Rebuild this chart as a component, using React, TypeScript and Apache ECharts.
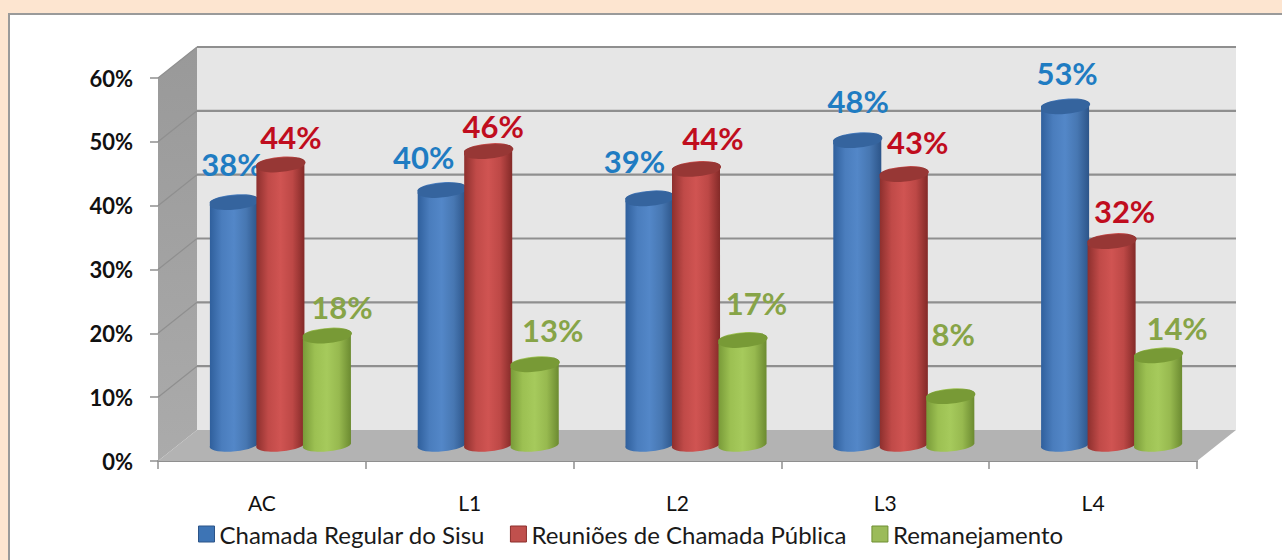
import React, { useEffect, useRef } from "react";
import * as echarts from "echarts";

const categories = ["AC", "L1", "L2", "L3", "L4"];
const seriesNames = ["Chamada Regular do Sisu", "Reuniões de Chamada Pública", "Remanejamento"];
const regularValues = [38.1, 40, 38.7, 47.8, 53.1];
const reunioesValues = [44, 46.1, 43.3, 42.5, 32];
const remanejamentoValues = [17.2, 12.7, 16.5, 7.7, 14.1];
const regularLabels = ["38%", "40%", "39%", "48%", "53%"];
const reunioesLabels = ["44%", "46%", "44%", "43%", "32%"];
const remanejamentoLabels = ["18%", "13%", "17%", "8%", "14%"];
const yTicks = [0, 10, 20, 30, 40, 50, 60];

// layout only: label offset from the top centre of each cylinder
const labelOffsets = [
  [[-2, -38], [10.5, -27], [15, -29]],
  [[-18, -33], [5, -25], [18, -34]],
  [[-15, -37], [17, -31], [14, -37]],
  [[1, -39], [14, -32], [3, -62]],
  [[2, -33], [13, -30], [19, -27]],
];

const DEPTH_X = 39;
const DEPTH_Y = -31;
const BAR_DX = 18.5;
const BAR_DY = -15.7;
const BASE_LIFT = 1.5;
const RX = 24;
const RY = 6.5;
const TILT = -5;
const SPACING = 46.5;

const palettes = [
  { stops: ["#2f5f9c", "#4a7dbd", "#5387c8", "#4777b2", "#2c5488"], top: "#35649e", text: "#1f7cc2", legend: "#3d74b5", border: "#2c5488" },
  { stops: ["#8c2f2d", "#c04a48", "#d05452", "#bd4846", "#822927"], top: "#973735", text: "#c00d1e", legend: "#c0504d", border: "#8c2f2d" },
  { stops: ["#789a38", "#9cc052", "#a6ca5c", "#97b94f", "#6b8a30"], top: "#789a36", text: "#87a447", legend: "#9bbb59", border: "#6f8f33" },
];

const FONT = "Lato, Carlito, sans-serif";

function gradient(stops: string[]) {
  return new echarts.graphic.LinearGradient(0, 0, 1, 0, stops.map((color, i) => ({ offset: i / (stops.length - 1), color })));
}

function cylinderSeries(s: number, values: number[], labels: string[]) {
  const p = palettes[s];
  return {
    type: "custom",
    name: seriesNames[s],
    coordinateSystem: "cartesian2d",
    clip: false,
    z: 5 + s,
    data: values.map((v, i) => [i, v]),
    encode: { x: 0, y: 1 },
    renderItem: (_: any, api: any) => {
      const i = api.value(0);
      const top = api.coord([i, api.value(1)]);
      const base = api.coord([i, 0]);
      const cx = top[0] + BAR_DX + (s - 1) * SPACING;
      const ty = top[1] + BAR_DY;
      const by = base[1] + BAR_DY - BASE_LIFT;
      const dy = RX * Math.sin((TILT * Math.PI) / 180);
      const lx = cx - RX;
      const rx = cx + RX;
      const arc = `A ${RX} ${RY} ${TILT} 0 0`;
      const body = `M ${lx} ${ty - dy} L ${lx} ${by - dy} ${arc} ${rx} ${by + dy} L ${rx} ${ty + dy} ${arc} ${lx} ${ty - dy} Z`;
      const cap = `M ${lx} ${ty - dy} ${arc} ${rx} ${ty + dy} ${arc} ${lx} ${ty - dy} Z`;
      const [ox, oy] = labelOffsets[i][s];
      return {
        type: "group",
        children: [
          { type: "path", shape: { pathData: body }, style: { fill: gradient(p.stops) } },
          { type: "path", shape: { pathData: cap }, style: { fill: p.top } },
          {
            type: "text",
            z2: 50,
            style: {
              text: labels[i],
              x: cx + ox,
              y: ty + oy,
              fill: p.text,
              font: `bold 31px ${FONT}`,
              textAlign: "center",
              textVerticalAlign: "middle",
            },
          },
        ],
      };
    },
  };
}

const wallSeries = {
  type: "custom",
  coordinateSystem: "cartesian2d",
  clip: false,
  silent: true,
  z: 1,
  data: [[0, 0]],
  encode: { x: 0, y: 1 },
  renderItem: (params: any, api: any) => {
    const sys = params.coordSys;
    const x0 = sys.x;
    const x1 = sys.x + sys.width;
    const yAt = (v: number) => api.coord([0, v])[1];
    const y0 = yAt(0);
    const yMax = yAt(60);
    const children: any[] = [
      {
        type: "polygon",
        shape: { points: [[x0, yMax], [x0 + DEPTH_X, yMax + DEPTH_Y], [x0 + DEPTH_X, y0 + DEPTH_Y], [x0, y0]] },
        style: { fill: new echarts.graphic.LinearGradient(0, 0, 0, 1, [{ offset: 0, color: "#999999" }, { offset: 1, color: "#ababab" }]) },
      },
      {
        type: "polygon",
        shape: { points: [[x0 + DEPTH_X, yMax + DEPTH_Y], [x1 + DEPTH_X, yMax + DEPTH_Y], [x1 + DEPTH_X, y0 + DEPTH_Y], [x0 + DEPTH_X, y0 + DEPTH_Y]] },
        style: { fill: "#e6e6e6" },
      },
      {
        type: "polygon",
        shape: { points: [[x0, y0], [x0 + DEPTH_X, y0 + DEPTH_Y], [x1 + DEPTH_X, y0 + DEPTH_Y], [x1, y0]] },
        style: { fill: "#b3b3b3" },
      },
    ];
    yTicks.slice(1).forEach((v) => {
      const y = yAt(v);
      children.push({
        type: "line",
        shape: { x1: x0, y1: y, x2: x0 + DEPTH_X, y2: y + DEPTH_Y },
        style: { stroke: "#8f8f8f", lineWidth: 1.2 },
      });
      children.push({
        type: "line",
        shape: { x1: x0 + DEPTH_X, y1: y + DEPTH_Y, x2: x1 + DEPTH_X, y2: y + DEPTH_Y },
        style: { stroke: "#8f8f8f", lineWidth: 2.2 },
      });
    });
    return { type: "group", children };
  },
};

export default function App() {
  const ref = useRef<HTMLDivElement>(null);
  useEffect(() => {
    const chart = echarts.init(ref.current!, null, { renderer: "svg" });
    chart.setOption({
      animation: false,
      backgroundColor: "transparent",
      textStyle: { fontFamily: FONT },
      grid: { left: 158, right: 85, top: 78, bottom: 99 },
      legend: {
        left: 193,
        top: 517,
        itemWidth: 16,
        itemHeight: 16,
        itemGap: 25,
        textStyle: { fontFamily: FONT, fontSize: 24, color: "#1a1a1a" },
        data: seriesNames.map((name, s) => ({
          name,
          icon: "rect",
          itemStyle: { color: palettes[s].legend, borderColor: palettes[s].border, borderWidth: 1 },
        })),
      },
      xAxis: {
        type: "category",
        data: categories,
        axisLine: { show: true, lineStyle: { color: "#8f8f8f", width: 2 } },
        axisTick: { show: true, length: 8, lineStyle: { color: "#8f8f8f", width: 1.5 } },
        axisLabel: { margin: 31, fontSize: 21, fontFamily: FONT, color: "#111111" },
      },
      yAxis: {
        type: "value",
        min: 0,
        max: 60,
        interval: 10,
        axisLine: { show: true, lineStyle: { color: "#999999", width: 1 } },
        axisTick: { show: true, length: 8, lineStyle: { color: "#8f8f8f", width: 1.5 } },
        splitLine: { show: false },
        axisLabel: { margin: 25, fontSize: 22, fontWeight: "bold", fontFamily: FONT, color: "#111111", formatter: (v: number) => `${v}%` },
      },
      series: [
        wallSeries,
        cylinderSeries(0, regularValues, regularLabels),
        cylinderSeries(1, reunioesValues, reunioesLabels),
        cylinderSeries(2, remanejamentoValues, remanejamentoLabels),
      ],
    });
    return () => chart.dispose();
  }, []);
  return (
    <div style={{ position: "fixed", left: 0, top: 0, width: 1282, height: 560, background: "#fde5d0", overflow: "hidden" }}>
      <div style={{ position: "absolute", left: 8, top: 13, width: 1274, height: 547, background: "#ffffff", borderLeft: "2px solid #9a9a9a", borderTop: "2px solid #9a9a9a", boxSizing: "border-box" }} />
      <div ref={ref} style={{ position: "absolute", left: 0, top: 0, width: 1282, height: 560 }} />
    </div>
  );
}
